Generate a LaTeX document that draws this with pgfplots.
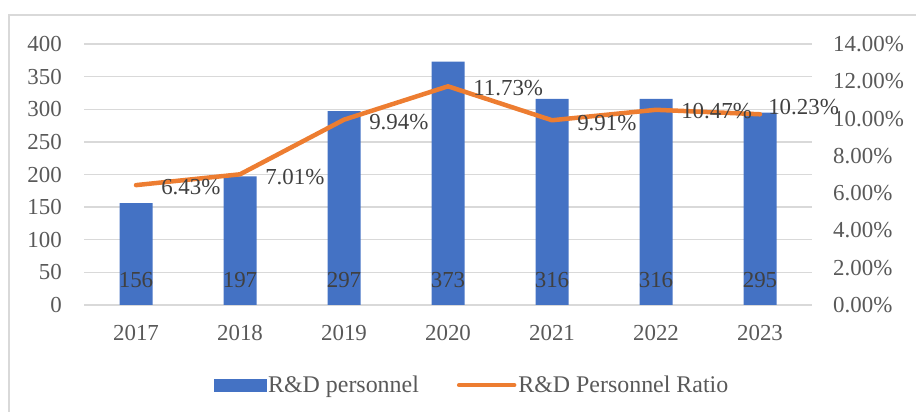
\documentclass[border=0pt]{standalone}
\usepackage{fontspec}
\setmainfont{Liberation Serif}
\usepackage{pgfplots}
\pgfplotsset{compat=1.18}

\definecolor{barblue}{HTML}{4472C4}
\definecolor{lineorange}{HTML}{ED7D31}
\definecolor{gridgray}{HTML}{D9D9D9}
\definecolor{ticktext}{HTML}{595959}
\definecolor{labeltext}{HTML}{404040}

\newcommand\chartfont{\fontsize{23}{27}\selectfont}

% staff counts per year
\pgfplotstableread{
x n
0 156
1 197
2 297
3 373
4 316
5 316
6 295
}\staff

% ratio (%) with label offsets
\pgfplotstableread{
x r dx dy
0 6.43 23 -2
1 7.01 23 -3
2 9.94 23 -2
3 11.73 23 -2
4 9.91 23 -3
5 10.47 23 -1
6 10.23 6 7
}\ratio

\begin{document}
\begin{tikzpicture}
\useasboundingbox (0bp,0bp) rectangle (916bp,412bp);
\draw[gridgray, line width=1.2bp] (9bp,-5bp) -- (9bp,397bp) -- (925bp,397bp);

\pgfplotsset{
  base/.style={
    at={(84bp,107bp)}, anchor=south west,
    scale only axis, width=728bp, height=261bp,
    xmin=-0.5, xmax=6.5,
    axis line style={draw=none},
    major tick length=0pt,
    /pgf/number format/assume math mode=true,
    tick label style={font=\chartfont, text=ticktext, inner sep=0pt},
  }
}

\begin{axis}[base,
  ymin=0, ymax=400, ytick={0,50,...,400},
  xtick={0,...,6}, xticklabels={2017,2018,2019,2020,2021,2022,2023},
  ymajorgrids, grid style={gridgray, line width=1.3bp},
  yticklabel style={anchor=east, xshift=-22bp},
  xticklabel style={anchor=north, yshift=-20bp},
]
\addplot[ybar, bar width=33bp, fill=barblue, draw=none,
  visualization depends on={\thisrow{n} \as \rawy},
  nodes near coords,
  every node near coord/.append style={anchor=center, inner sep=0pt,
    font=\chartfont, text=labeltext, yshift={(38-\rawy)*0.6525bp}},
] table[x=x, y=n] {\staff};
\end{axis}

\begin{axis}[base,
  ymin=0, ymax=14, ytick={0,2,...,14},
  axis y line*=right, hide x axis,
  yticklabel={\pgfmathprintnumber[fixed,fixed zerofill,precision=2]{\tick}\%},
  yticklabel style={anchor=west, xshift=21bp},
  legend columns=2,
  legend style={at={(0.533,-0.307)}, anchor=center, draw=none, fill=none,
    font=\fontsize{24}{28}\selectfont, text=ticktext,
    /tikz/every even column/.append style={column sep=36bp}},
]
\addlegendimage{legend image code/.code={\fill[barblue] (0bp,-6bp) rectangle (52bp,6bp);}}
\addlegendentry{R\&D personnel}
\addplot[lineorange, line width=4.5bp, line join=round, line cap=round, mark=none,
  legend image code/.code={\draw[lineorange, line width=4.5bp, line cap=round] (0bp,0bp) -- (55bp,0bp);},
  visualization depends on={\thisrow{dx} \as \dx},
  visualization depends on={\thisrow{dy} \as \dy},
  nodes near coords={\pgfmathprintnumber[fixed,fixed zerofill,precision=2]{\pgfplotspointmeta}\%},
  every node near coord/.append style={anchor=west, inner sep=0pt,
    font=\chartfont, text=labeltext, xshift=\dx bp, yshift=\dy bp},
] table[x=x, y=r] {\ratio};
\addlegendentry{R\&D Personnel Ratio}
\end{axis}
\end{tikzpicture}
\end{document}
